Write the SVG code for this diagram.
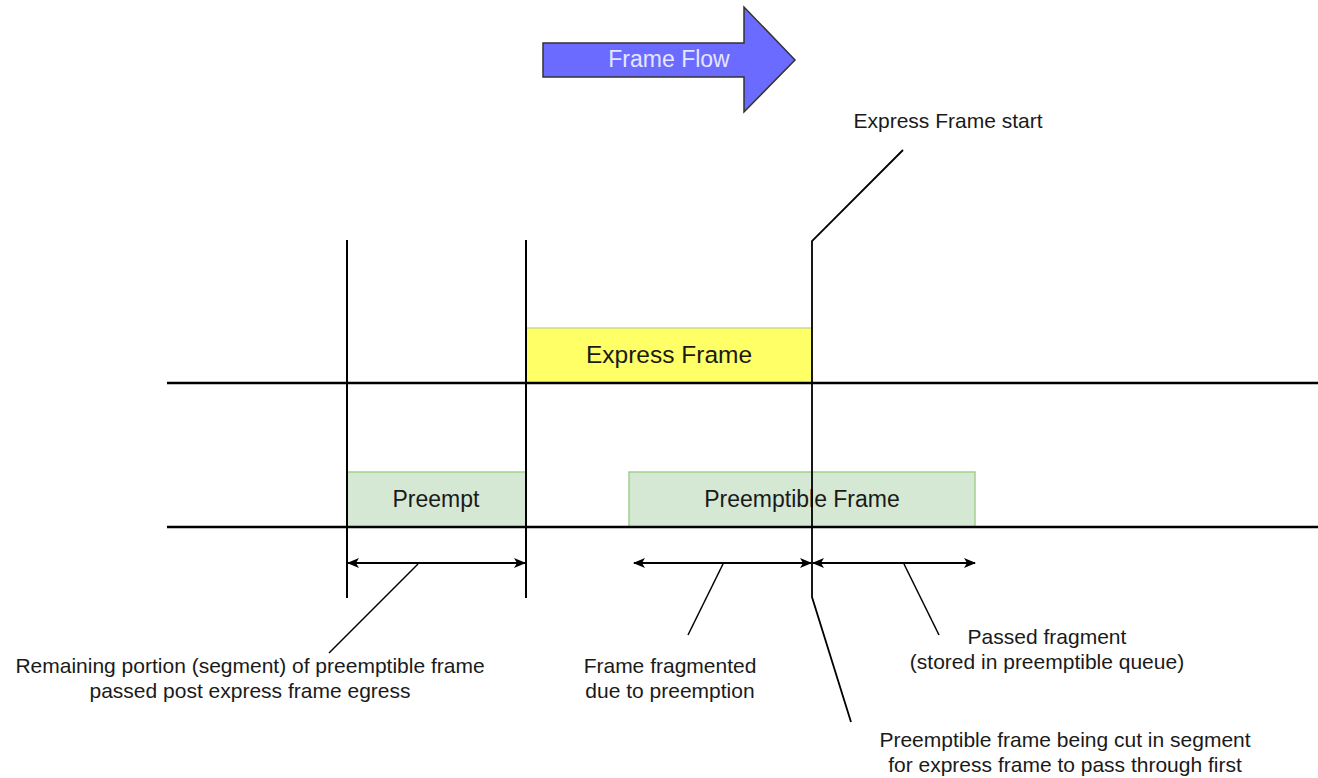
<svg xmlns="http://www.w3.org/2000/svg" width="1318" height="778" viewBox="0 0 1318 778">
<defs>
<style>
.lbl{font-family:"Liberation Sans",Arial,sans-serif;font-size:21px;fill:#1a1a1a;text-anchor:middle}
.box{font-family:"Liberation Sans",Arial,sans-serif;font-size:23px;fill:#1a1a1a;text-anchor:middle}
.ln{stroke:#000;stroke-width:2;fill:none}
.ld{stroke:#000;stroke-width:1.5;fill:none}
</style>
<marker id="ah" viewBox="0 0 12 10" refX="11" refY="5" markerWidth="12" markerHeight="10" markerUnits="userSpaceOnUse" orient="auto-start-reverse">
<path d="M0,0 L12,5 L0,10 L3,5 Z" fill="#000"/>
</marker>
</defs>
<rect width="1318" height="778" fill="#fff"/>
<g id="frame-flow">
<path d="M543,43 L744,43 L744,7 L795,60 L744,112 L744,77 L543,77 Z" fill="#6b6bff" stroke="#333" stroke-width="1.5"/>
<text x="669" y="67" class="box" style="fill:#e6e6ff">Frame Flow</text>
</g>
<g id="express-frame">
<rect x="526" y="328" width="286" height="55" fill="#ffff66" stroke="#c9dc86" stroke-width="1.5"/>
<text x="669" y="363" class="box" style="font-size:24.5px">Express Frame</text>
</g>
<g id="preempt">
<rect x="347" y="472" width="179" height="55" fill="#d5e8d4" stroke="#a3cf8c" stroke-width="1.5"/>
<text x="436" y="507" class="box">Preempt</text>
</g>
<g id="preemptible-frame">
<rect x="629" y="472" width="346" height="55" fill="#d5e8d4" stroke="#a3cf8c" stroke-width="1.5"/>
<text x="802" y="507" class="box">Preemptible Frame</text>
</g>
<g id="connectors">
<line x1="167" y1="383" x2="1318" y2="383" class="ln" style="stroke-width:2.5"/>
<line x1="167" y1="527" x2="1318" y2="527" class="ln" style="stroke-width:2.5"/>
<line x1="347" y1="240" x2="347" y2="598" class="ln"/>
<line x1="526" y1="240" x2="526" y2="598" class="ln"/>
<polyline points="903,150 812,241 812,597 851,722" class="ln" style="stroke-width:1.8"/>
<line x1="348" y1="563" x2="525" y2="563" class="ln" marker-start="url(#ah)" marker-end="url(#ah)"/>
<line x1="634" y1="563" x2="811" y2="563" class="ln" marker-start="url(#ah)" marker-end="url(#ah)"/>
<line x1="813" y1="563" x2="975" y2="563" class="ln" marker-start="url(#ah)" marker-end="url(#ah)"/>
<line x1="418" y1="564" x2="329" y2="653" class="ld"/>
<line x1="723" y1="564" x2="688" y2="635" class="ld"/>
<line x1="904" y1="564" x2="939" y2="635" class="ld"/>
</g>
<g id="labels">
<text x="948" y="128" class="lbl">Express Frame start</text>
<text x="250" y="673" class="lbl">Remaining portion (segment) of preemptible frame</text>
<text x="250" y="698" class="lbl">passed post express frame egress</text>
<text x="670" y="673" class="lbl">Frame fragmented</text>
<text x="670" y="698" class="lbl">due to preemption</text>
<text x="1047" y="644" class="lbl">Passed fragment</text>
<text x="1047" y="669" class="lbl">(stored in preemptible queue)</text>
<text x="1065" y="747" class="lbl">Preemptible frame being cut in segment</text>
<text x="1065" y="772" class="lbl">for express frame to pass through first</text>
</g>
</svg>
